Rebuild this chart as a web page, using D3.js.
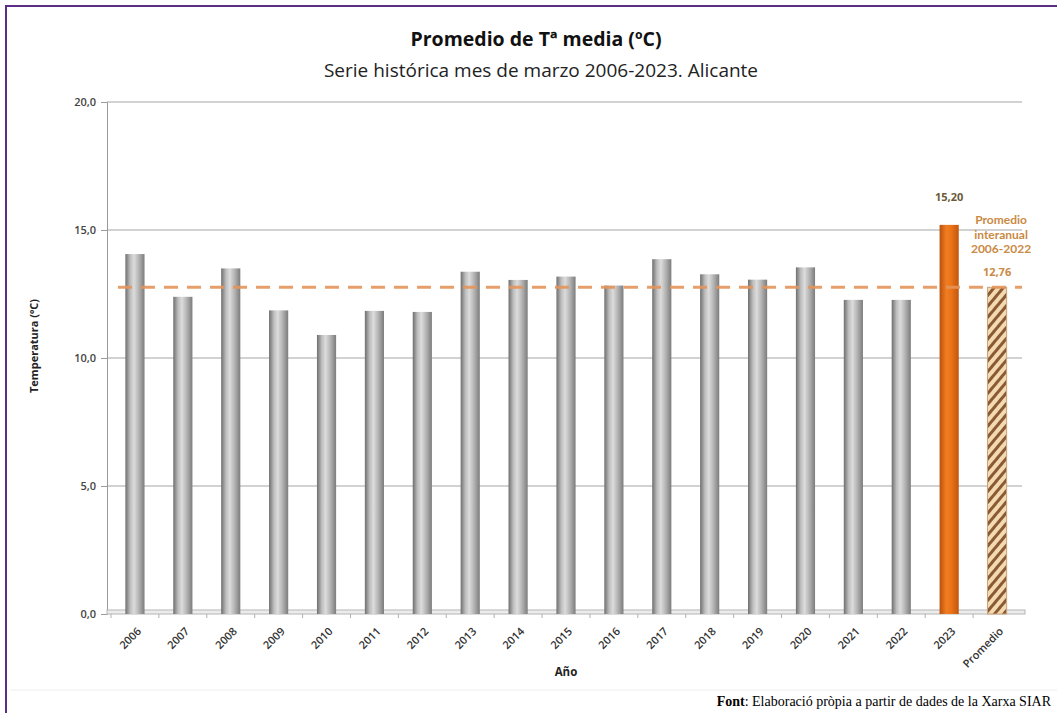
<!DOCTYPE html>
<html>
<head>
<meta charset="utf-8">
<script src="https://cdn.jsdelivr.net/npm/d3@7"></script>
<style>
  body { margin: 0; background: #fff; }
  text { font-family: "Open Sans", sans-serif; }
</style>
</head>
<body>
<div id="chart"></div>
<script>
var years = ["2006","2007","2008","2009","2010","2011","2012","2013","2014","2015","2016","2017","2018","2019","2020","2021","2022","2023","Promedio"];
var temps = [14.06, 12.39, 13.5, 11.86, 10.9, 11.84, 11.8, 13.37, 13.05, 13.18, 12.83, 13.86, 13.27, 13.06, 13.54, 12.27, 12.27, 15.20, 12.76];
var yTicks = [0, 5, 10, 15, 20];
var promedio = 12.76;
var avgLabel = ["Promedio", "interanual", "2006-2022"];

var W = 1057, H = 713;

var svg = d3.select("#chart").append("svg")
    .attr("width", W)
    .attr("height", H);

var defs = svg.append("defs");

// cylinder-ish gray bars
var gGray = defs.append("linearGradient").attr("id", "gray");
[[0, "#6e6e6e"], [0.25, "#bdbdbd"], [0.45, "#dcdcdc"], [0.7, "#b4b4b4"], [1, "#7c7c7c"]].forEach(function(s){
  gGray.append("stop").attr("offset", s[0]).attr("stop-color", s[1]);
});
var gOr = defs.append("linearGradient").attr("id", "orange");
[[0, "#b9500c"], [0.35, "#f07d22"], [0.6, "#ec7318"], [1, "#c2560e"]].forEach(function(s){
  gOr.append("stop").attr("offset", s[0]).attr("stop-color", s[1]);
});
var hatch = defs.append("pattern").attr("id", "hatch")
    .attr("patternUnits", "userSpaceOnUse")
    .attr("width", 7).attr("height", 7)
    .attr("patternTransform", "rotate(40)");
hatch.append("rect").attr("width", 7).attr("height", 7).attr("fill", "#f4dab2");
hatch.append("rect").attr("width", 3).attr("height", 7).attr("fill", "#8a5a32");

// frame
svg.append("path")
    .attr("d", "M6," + H + "V6H" + W)
    .attr("fill", "none")
    .attr("stroke", "#5b2d86")
    .attr("stroke-width", 2);

svg.append("line")
    .attr("x1", 10).attr("x2", W).attr("y1", 690).attr("y2", 690)
    .attr("stroke", "#eeeeee");

var x = d3.scaleBand()
    .domain(years)
    .range([111, 1021])
    .paddingInner(0.6)
    .paddingOuter(0.3);

var y = d3.scaleLinear()
    .domain([0, 20])
    .range([614, 102]);

// gridlines
svg.append("g").selectAll("line")
    .data(yTicks.filter(function(d){ return d > 0; }))
  .enter().append("line")
    .attr("x1", 107).attr("x2", 1022)
    .attr("y1", function(d){ return y(d); })
    .attr("y2", function(d){ return y(d); })
    .attr("stroke", "#a6a6a6")
    .attr("stroke-width", 1.2);

// y axis
var yAxis = d3.axisLeft(y)
    .tickValues(yTicks)
    .tickSize(6)
    .tickPadding(5)
    .tickFormat(function(d){ return d3.format(".1f")(d).replace(".", ","); });

var ya = svg.append("g")
    .attr("transform", "translate(107,0)")
    .call(yAxis);
ya.select(".domain").attr("stroke", "#9a9a9a");
ya.selectAll(".tick line").attr("stroke", "#9a9a9a");
ya.selectAll(".tick text")
    .attr("fill", "#444")
    .style("font-size", "11px")
    .style("font-weight", "600");

// floor
svg.append("rect")
    .attr("x", 107).attr("y", 610)
    .attr("width", 918).attr("height", 4)
    .attr("fill", "#ececec")
    .attr("stroke", "#b5b5b5")
    .attr("stroke-width", 1);

// x axis
var xAxis = d3.axisBottom(x).tickSize(0).tickPadding(0);
var xa = svg.append("g")
    .attr("transform", "translate(0,614)")
    .call(xAxis);
xa.select(".domain").remove();
xa.selectAll(".tick text")
    .attr("text-anchor", "end")
    .attr("fill", "#333")
    .style("font-size", "11px")
    .style("font-weight", "600")
    .attr("dy", null)
    .attr("y", 0)
    .attr("transform", "translate(7,18) rotate(-45)");

// minor category ticks
svg.append("g").selectAll("line")
    .data(years)
  .enter().append("line")
    .attr("x1", function(d){ return x(d) - x.step() * 0.3; })
    .attr("x2", function(d){ return x(d) - x.step() * 0.3; })
    .attr("y1", 614).attr("y2", 618)
    .attr("stroke", "#b0b0b0");

// bars
svg.append("g").selectAll("rect")
    .data(years.map(function(d, i){ return {year: d, value: temps[i]}; }))
  .enter().append("rect")
    .attr("x", function(d){ return x(d.year); })
    .attr("y", function(d){ return y(d.value); })
    .attr("width", x.bandwidth())
    .attr("height", function(d){ return y(0) - y(d.value); })
    .attr("fill", function(d){
      if (d.year === "2023") return "url(#orange)";
      if (d.year === "Promedio") return "url(#hatch)";
      return "url(#gray)";
    })
    .attr("stroke", function(d){ return d.year === "Promedio" ? "#c9a27a" : "none"; })
    .attr("stroke-width", 1);

// average dashed line
svg.append("line")
    .attr("x1", 118).attr("x2", 1022)
    .attr("y1", y(promedio)).attr("y2", y(promedio))
    .attr("stroke", "#e3955a")
    .attr("stroke-opacity", 0.9)
    .attr("stroke-width", 3)
    .attr("stroke-dasharray", "14,9");

// value labels
var x23 = x("2023") + x.bandwidth() / 2;
var xp = x("Promedio") + x.bandwidth() / 2;

svg.append("text")
    .attr("x", x23).attr("y", 201)
    .attr("text-anchor", "middle")
    .attr("fill", "#6b5a3a")
    .style("font-size", "11px")
    .style("font-weight", "bold")
    .text("15,20");

svg.append("g").selectAll("text")
    .data(avgLabel)
  .enter().append("text")
    .attr("x", xp + 4)
    .attr("y", function(d, i){ return 224 + i * 14.5; })
    .attr("text-anchor", "middle")
    .attr("fill", "#c98a44")
    .style("font-family", "Lato, sans-serif")
    .style("font-size", "12px")
    .style("font-weight", "bold")
    .text(function(d){ return d; });

svg.append("text")
    .attr("x", xp).attr("y", 276)
    .attr("text-anchor", "middle")
    .attr("fill", "#c98a44")
    .style("font-size", "11px")
    .style("font-weight", "bold")
    .text("12,76");

// titles
svg.append("text")
    .attr("x", 536).attr("y", 46)
    .attr("text-anchor", "middle")
    .attr("fill", "#111")
    .style("font-size", "19.5px")
    .style("font-weight", "bold")
    .text("Promedio de Tª media (ºC)");

svg.append("text")
    .attr("x", 541).attr("y", 77)
    .attr("text-anchor", "middle")
    .attr("fill", "#222")
    .style("font-size", "19px")
    .text("Serie histórica mes de marzo 2006-2023. Alicante");

svg.append("text")
    .attr("transform", "translate(38,346) rotate(-90)")
    .attr("text-anchor", "middle")
    .attr("fill", "#222")
    .style("font-size", "11px")
    .style("font-weight", "bold")
    .text("Temperatura (ºC)");

svg.append("text")
    .attr("x", 566).attr("y", 676)
    .attr("text-anchor", "middle")
    .attr("fill", "#222")
    .style("font-size", "11.5px")
    .style("font-weight", "bold")
    .text("Año");

// source
var src = svg.append("text")
    .attr("x", 1051).attr("y", 706)
    .attr("text-anchor", "end")
    .attr("fill", "#000")
    .style("font-family", "'Liberation Serif', 'Times New Roman', serif")
    .style("font-size", "14px");
src.append("tspan").style("font-weight", "bold").text("Font");
src.append("tspan").text(": Elaboració pròpia a partir de dades de la Xarxa SIAR");
</script>
</body>
</html>
